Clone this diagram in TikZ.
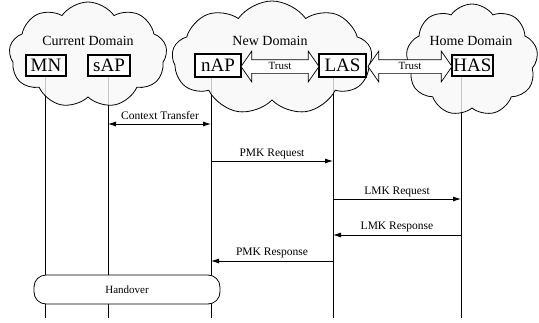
\documentclass[tikz,border=0pt]{standalone}
\usepackage{fontspec}
\setmainfont{Liberation Serif}
\usetikzlibrary{shapes.symbols,shapes.arrows,arrows.meta,calc}
\begin{document}
\begin{tikzpicture}[x=1pt,y=-1pt,
 domcloud/.style={cloud, cloud puffs=9, cloud puff arc=110, cloud ignores aspect, draw, line width=0.8pt, fill=black!3, fill opacity=0.8, inner sep=0pt},
 entity/.style={draw, line width=1.1pt, fill=white, minimum height=21pt, inner sep=0pt, font=\fontsize{19}{19}\selectfont},
 dlabel/.style={font=\fontsize{14}{14}\selectfont, inner sep=0pt},
 mlabel/.style={font=\fontsize{11.5}{12}\selectfont, inner sep=0pt, anchor=base},
 lifeline/.style={line width=0.6pt},
 msg/.style={line width=0.8pt, -{Latex[length=8pt,width=5pt]}},
 dmsg/.style={line width=0.8pt, {Latex[length=8pt,width=5pt]}-{Latex[length=8pt,width=5pt]}},
 trust/.style={double arrow, draw, line width=0.7pt, fill=white, double arrow head extend=8.5pt, double arrow tip angle=110, inner xsep=0pt, inner ysep=1.5pt, text height=8pt, text depth=2pt, font=\fontsize{11}{11}\selectfont},
 hbox/.style={draw, line width=0.8pt, fill=white, rounded corners=12pt, minimum width=186pt, minimum height=29pt, font=\fontsize{11}{11}\selectfont},
]
\useasboundingbox (0,0) rectangle (539,322);
% lifeline coordinates
\coordinate (mnT) at (45,70);   \coordinate (mnB) at (45,318);
\coordinate (sapT) at (108,70); \coordinate (sapB) at (108,318);
\coordinate (napT) at (211,70); \coordinate (napB) at (211,318);
\coordinate (lasT) at (333,70); \coordinate (lasB) at (333,318);
\coordinate (hasT) at (461,70); \coordinate (hasB) at (461,318);
\draw[lifeline] (mnT) -- (mnB);
\draw[lifeline] (sapT) -- (sapB);
\draw[lifeline] (napT) -- (napB);
\draw[lifeline] (lasT) -- (lasB);
\draw[lifeline] (hasT) -- (hasB);
% domains
\node[domcloud, minimum width=158pt, minimum height=106pt] (cur) at (88,55) {};
\node[domcloud, minimum width=200pt, minimum height=114pt] (new) at (272,58) {};
\node[domcloud, minimum width=132pt, minimum height=112pt] (home) at (472,60) {};
\node[dlabel] (curL) at (88,41) {Current Domain};
\node[dlabel] (newL) at (270,41) {New Domain};
\node[dlabel] (homeL) at (471,41) {Home Domain};
% entities
\node[entity, minimum width=40pt] (MN) at (46,65.5) {MN};
\node[entity, minimum width=42pt] (sAP) at (109,65.5) {sAP};
\node[entity, minimum width=46pt, minimum height=23pt] (nAP) at (218,65.5) {nAP};
\node[entity, minimum width=47pt, minimum height=23pt] (LAS) at (342.5,65.5) {LAS};
\node[entity, minimum width=41pt] (HAS) at (472.5,65.5) {HAS};
% trust arrows
\node[trust, minimum height=78pt] (t1) at ($(nAP.east)!.5!(LAS.west)+(0,1)$) {Trust};
\node[trust, minimum height=84pt] (t2) at ($(LAS.east)!.5!(HAS.west)+(1,1)$) {Trust};
% messages
\draw[dmsg] (sapT |- 0,124) -- (napT |- 0,124);
\node[mlabel] (m1) at (160,119) {Context Transfer};
\draw[msg] (napT |- 0,161) -- (lasT |- 0,161);
\node[mlabel] (m2) at (272,156) {PMK Request};
\draw[msg] (lasT |- 0,199) -- (hasT |- 0,199);
\node[mlabel] (m3) at (397,194) {LMK Request};
\draw[msg] (hasT |- 0,235) -- (lasT |- 0,235);
\node[mlabel] (m4) at (397,229) {LMK Response};
\draw[msg] (lasT |- 0,261) -- (napT |- 0,261);
\node[mlabel] (m5) at (272,255) {PMK Response};
% handover
\node[hbox] (ho) at (127,289.5) {Handover};
\end{tikzpicture}
\end{document}
